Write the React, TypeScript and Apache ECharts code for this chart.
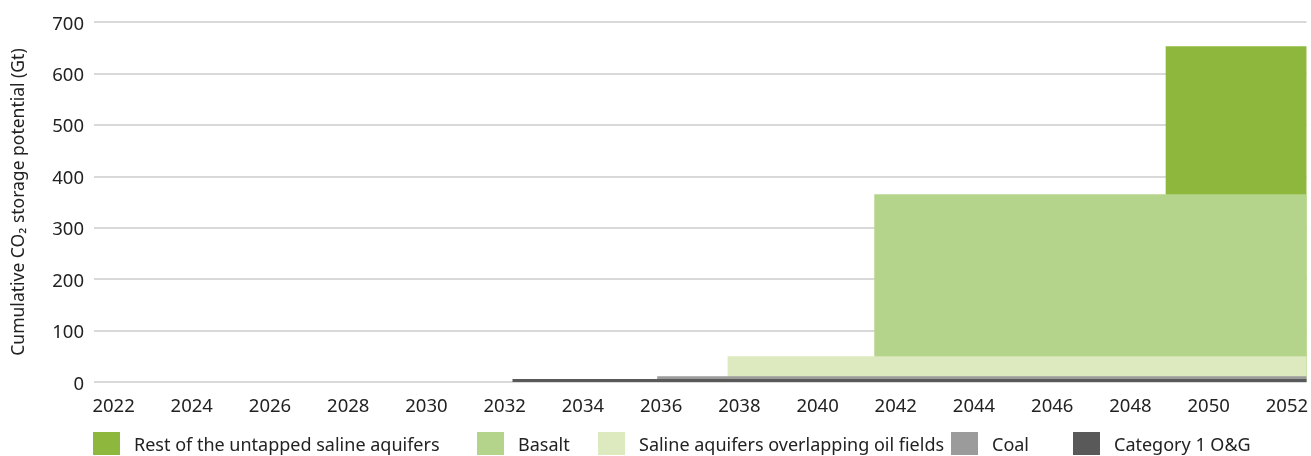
import React, { useEffect, useRef } from "react";
import * as echarts from "echarts";

// Storage layers, listed from the bottom of the stack to the top
const layerNames = [
  "Category 1 O&G",
  "Coal",
  "Saline aquifers overlapping oil fields",
  "Basalt",
  "Rest of the untapped saline aquifers",
];
// Year at which each layer becomes available
const layerStartYear = [2032.2, 2035.9, 2037.7, 2041.45, 2048.9];
// Storage potential added by each layer (Gt CO2)
const layerAmountGt = [6, 5, 39, 315, 288];
const layerColors = ["#595959", "#9b9b9b", "#dde9be", "#b4d48b", "#8db83d"];

const years = Array.from({ length: 31 }, (_, i) => String(2022 + i));
const endYear = 2052.5;

const legendOrder = [
  "Rest of the untapped saline aquifers",
  "Basalt",
  "Saline aquifers overlapping oil fields",
  "Coal",
  "Category 1 O&G",
];
// left edge of each legend entry
const legendLeft = [93, 477, 598, 951, 1073];

const FONT = "'Noto Sans', 'Open Sans', sans-serif";
const TEXT = "#222";

export default function App() {
  const ref = useRef<HTMLDivElement>(null);

  useEffect(() => {
    if (!ref.current) return;
    const chart = echarts.init(ref.current, null, { renderer: "svg" });

    // cumulative tops of each layer
    const tops: number[] = [];
    layerAmountGt.reduce((acc, v, i) => {
      tops[i] = acc + v;
      return tops[i];
    }, 0);

    // draw the tallest (top) layer first so lower layers paint over it
    const order = [4, 3, 2, 1, 0];
    const series = order.map((i) => ({
      name: layerNames[i],
      type: "line",
      xAxisIndex: 1,
      data: [
        [layerStartYear[i], tops[i]],
        [endYear, tops[i]],
      ],
      showSymbol: false,
      symbol: "none",
      lineStyle: { width: 0 },
      itemStyle: { color: layerColors[i] },
      areaStyle: { color: layerColors[i], opacity: 1 },
      silent: true,
    }));

    const legend = legendOrder.map((name, i) => ({
      data: [name],
      left: legendLeft[i],
      bottom: 1,
      padding: 0,
      icon: "rect",
      itemWidth: 27,
      itemHeight: 23,
      textStyle: {
        fontFamily: FONT,
        fontSize: 18,
        color: TEXT,
        padding: [0, 0, 0, 9],
      },
    }));

    chart.setOption({
      animation: false,
      textStyle: { fontFamily: FONT },
      grid: { left: 93, right: 1, top: 22, bottom: 74, containLabel: false },
      legend,
      xAxis: [
        {
          type: "category",
          data: years,
          boundaryGap: true,
          axisLine: { show: false },
          axisTick: { show: false },
          axisLabel: {
            interval: 1,
            fontFamily: FONT,
            fontSize: 18.5,
            color: TEXT,
            margin: 13,
          },
          splitLine: { show: false },
        },
        {
          type: "value",
          min: 2021.5,
          max: endYear,
          show: false,
          splitLine: { show: false },
        },
      ],
      yAxis: {
        type: "value",
        min: 0,
        max: 700,
        interval: 100,
        name: "Cumulative CO\u2082 storage potential (Gt)",
        nameLocation: "middle",
        nameRotate: 90,
        nameGap: 68,
        nameTextStyle: { fontFamily: FONT, fontSize: 17.5, color: TEXT },
        axisLine: { show: false },
        axisTick: { show: false },
        axisLabel: { fontFamily: FONT, fontSize: 18.5, color: TEXT, margin: 10 },
        splitLine: { lineStyle: { color: "#d9d9d9", width: 2 } },
      },
      series,
    });

    return () => chart.dispose();
  }, []);

  return (
    <div
      ref={ref}
      style={{ position: "fixed", left: 0, top: 0, width: 1311, height: 456 }}
    />
  );
}
